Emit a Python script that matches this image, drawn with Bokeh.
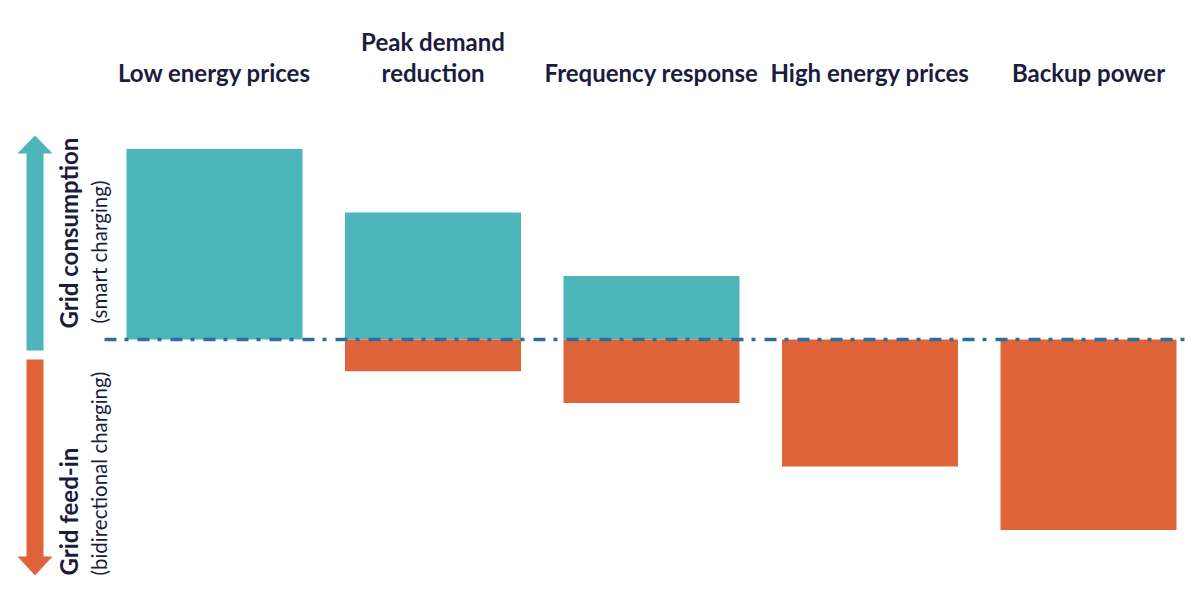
import math
from bokeh.plotting import figure
from bokeh.models import Range1d
from bokeh.core.properties import value
from bokeh.embed import file_html
from bokeh.resources import INLINE

# ---- data ----
categories = ["Low energy prices", "Peak demand\nreduction", "Frequency response",
              "High energy prices", "Backup power"]
consumption = [3.0, 2.0, 1.0, 0.0, 0.0]   # grid consumption (smart charging)
feed_in = [0.0, 0.5, 1.0, 2.0, 3.0]       # grid feed-in (bidirectional charging)

TEAL = "#4db6bb"
ORANGE = "#e0643a"
LINE = "#2e6e9a"
TEXT = "#1c1c3c"
FONT = "Lato"

W, H = 1192, 594
# layout scales (pixels per unit)
SX = 218.5
SY = 63.5
x0 = -214 / SX
x1 = x0 + W / SX
y1 = 339 / SY
y0 = y1 - H / SY

def px(page_x):
    return x0 + page_x / SX

def py(page_y):
    return y1 - page_y / SY

p = figure(width=W, height=H, x_range=Range1d(x0, x1), y_range=Range1d(y0, y1),
           output_backend="svg", toolbar_location=None, min_border=0)
p.axis.visible = False
p.grid.visible = False
p.outline_line_color = None
p.background_fill_color = "white"
p.border_fill_color = "white"

xs = list(range(len(categories)))
BW = 176 / SX

pos_x = [x for x, v in zip(xs, consumption) if v > 0]
pos_v = [v for v in consumption if v > 0]
neg_x = [x for x, v in zip(xs, feed_in) if v > 0]
neg_v = [-v for v in feed_in if v > 0]

p.vbar(x=pos_x, top=pos_v, bottom=0, width=BW, fill_color=TEAL, line_color=None)
p.vbar(x=neg_x, top=0, bottom=neg_v, width=BW, fill_color=ORANGE, line_color=None)

# zero line (dash-dot)
p.segment(x0=[px(104)], y0=[0], x1=[px(1192)], y1=[0], line_color=LINE,
          line_width=3.5, line_dash="12 8 4 9")

# category labels (last line baseline fixed, earlier lines stacked above)
lx, ly, lt = [], [], []
for x, cat in zip(xs, categories):
    lines = cat.split("\n")
    n = len(lines)
    for i, t in enumerate(lines):
        lx.append(x)
        ly.append(py(72 - 31 * (n - 1 - i)))
        lt.append(t)
p.text(x=lx, y=ly, text=lt, text_align="center", text_baseline="alphabetic",
       text_font=value(FONT), text_font_style="bold", text_font_size="24px",
       text_color=TEXT)

# left arrows
cx = 34.5
sw = 8.5
hw = 17.5
teal_px = [(cx - sw, 350), (cx - sw, 153), (cx - hw, 153), (cx, 135), (cx + hw, 153), (cx + sw, 153), (cx + sw, 350)]
orng_px = [(cx - sw, 359), (cx - sw, 556), (cx - hw, 556), (cx, 575), (cx + hw, 556), (cx + sw, 556), (cx + sw, 359)]
p.patch([px(a) for a, b in teal_px], [py(b) for a, b in teal_px], fill_color=TEAL, line_color=None)
p.patch([px(a) for a, b in orng_px], [py(b) for a, b in orng_px], fill_color=ORANGE, line_color=None)

# rotated axis texts
p.text(x=[px(68)], y=[py(328)], text=["Grid consumption"], angle=math.pi / 2,
       text_align="left", text_baseline="middle", text_font=value(FONT),
       text_font_style="bold", text_font_size="24px", text_color=TEXT)
p.text(x=[px(98)], y=[py(323)], text=["(smart charging)"], angle=math.pi / 2,
       text_align="left", text_baseline="middle", text_font=value(FONT),
       text_font_size="20.5px", text_color=TEXT)
p.text(x=[px(68)], y=[py(575)], text=["Grid feed-in"], angle=math.pi / 2,
       text_align="left", text_baseline="middle", text_font=value(FONT),
       text_font_style="bold", text_font_size="24px", text_color=TEXT)
p.text(x=[px(98)], y=[py(575)], text=["(bidirectional charging)"], angle=math.pi / 2,
       text_align="left", text_baseline="middle", text_font=value(FONT),
       text_font_size="20.5px", text_color=TEXT)

open("out.html", "w").write(file_html(p, INLINE))
